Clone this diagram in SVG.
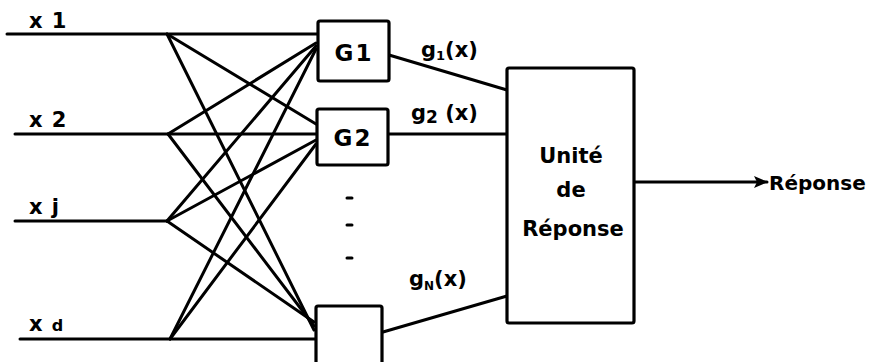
<svg xmlns="http://www.w3.org/2000/svg" width="869" height="362" viewBox="0 0 869 362">
  <defs>
    <marker id="arrow" viewBox="0 0 14 12" refX="13" refY="6" markerWidth="14" markerHeight="12" markerUnits="userSpaceOnUse" orient="auto">
      <path d="M0,0 L14,6 L0,12 L3,6 Z" fill="#000"/>
    </marker>
  </defs>
  <style>
    .ln { stroke: #000; stroke-width: 3; fill: none; stroke-linecap: round; }
    .box { stroke: #000; stroke-width: 3.2; fill: #fff; }
    .lbl { font-family: "DejaVu Sans", "Liberation Sans", sans-serif; font-weight: bold; fill: #000; }
    .hand { font-family: "DejaVu Sans", "Liberation Sans", sans-serif; font-weight: 600; fill: #000; }
  </style>
  <rect width="869" height="362" fill="#fff"/>

  <!-- input lines and fan-out connections -->
  <g id="connectors">
    <line class="ln" x1="7" y1="34" x2="318" y2="34"/>
    <line class="ln" x1="15" y1="134" x2="317" y2="134"/>
    <line class="ln" x1="15" y1="221" x2="167" y2="221"/>
    <line class="ln" x1="20" y1="339" x2="316" y2="339"/>

    <!-- x1 -->
    <line class="ln" x1="167" y1="34" x2="316" y2="124"/>
    <line class="ln" x1="167" y1="34" x2="314" y2="330"/>
    <!-- x2 -->
    <line class="ln" x1="168" y1="134" x2="316" y2="43"/>
    <line class="ln" x1="168" y1="134" x2="314" y2="326"/>
    <!-- xj -->
    <line class="ln" x1="167" y1="221" x2="316" y2="46"/>
    <line class="ln" x1="167" y1="221" x2="316" y2="140"/>
    <line class="ln" x1="167" y1="221" x2="314" y2="322"/>
    <!-- xd -->
    <line class="ln" x1="170" y1="339" x2="316" y2="49"/>
    <line class="ln" x1="170" y1="339" x2="316" y2="144"/>

    <!-- outputs to response unit -->
    <line class="ln" x1="389" y1="55" x2="507" y2="90"/>
    <line class="ln" x1="388" y1="134" x2="507" y2="134"/>
    <line class="ln" x1="383" y1="332" x2="507" y2="296"/>
    <line class="ln" x1="634" y1="182" x2="767" y2="182" marker-end="url(#arrow)"/>
  </g>

  <!-- input labels -->
  <g id="inputs">
    <text class="lbl" x="29" y="28" font-size="21" letter-spacing="1">x 1</text>
    <text class="lbl" x="29" y="127" font-size="21" letter-spacing="1">x 2</text>
    <text class="lbl" x="29" y="214" font-size="21" letter-spacing="1">x j</text>
    <text class="lbl" x="29" y="331" font-size="21" letter-spacing="1">x <tspan font-size="16">d</tspan></text>
  </g>

  <g id="G1">
    <rect class="box" x="318" y="21" width="71" height="60" rx="2"/>
    <text class="hand" x="354" y="61" font-size="23" text-anchor="middle" letter-spacing="2">G1</text>
  </g>
  <g id="G2">
    <rect class="box" x="317" y="109" width="71" height="56" rx="2"/>
    <text class="hand" x="353" y="146" font-size="23" text-anchor="middle" letter-spacing="2">G2</text>
  </g>
  <g id="dots">
    <line class="ln" x1="347" y1="198" x2="352" y2="198"/>
    <line class="ln" x1="347" y1="225" x2="352" y2="225"/>
    <line class="ln" x1="347" y1="258" x2="352" y2="258"/>
  </g>
  <g id="GN">
    <rect class="box" x="316" y="306" width="66" height="62" rx="2"/>
  </g>

  <!-- connector labels -->
  <g id="labels">
    <text class="hand" x="421" y="57" font-size="21">g<tspan font-size="13" dy="3">1</tspan><tspan dy="-3">(x)</tspan></text>
    <text class="hand" x="411" y="120" font-size="21">g<tspan font-size="17" dy="3">2</tspan><tspan dy="-3"> (x)</tspan></text>
    <text class="hand" x="409" y="286" font-size="21">g<tspan font-size="12" dy="4">N</tspan><tspan dy="-4">(x)</tspan></text>
  </g>

  <g id="unite">
    <rect class="box" x="507" y="68" width="127" height="255" rx="2"/>
    <text class="hand" x="571" y="163" font-size="21" text-anchor="middle">Unité</text>
    <text class="hand" x="571" y="197" font-size="21" text-anchor="middle">de</text>
    <text class="hand" x="573" y="236" font-size="21" text-anchor="middle">Réponse</text>
  </g>

  <g id="reponse">
    <text class="hand" x="769" y="190" font-size="20">Réponse</text>
  </g>
</svg>
